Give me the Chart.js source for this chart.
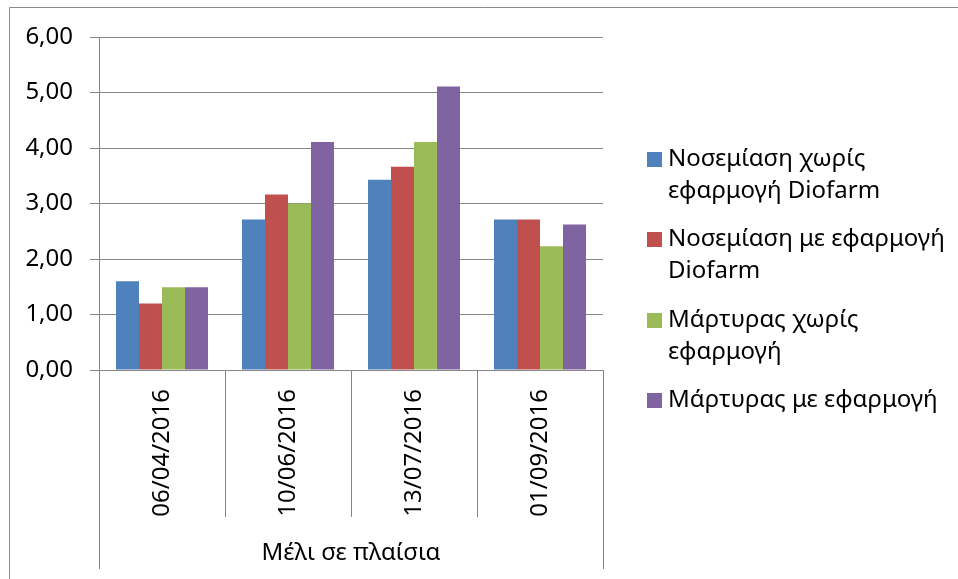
<!DOCTYPE html>
<html>
<head>
<meta charset="utf-8">
<script src="https://cdn.jsdelivr.net/npm/chart.js@4/dist/chart.umd.min.js"></script>
<style>
  html, body { margin: 0; padding: 0; background: #ffffff; }
  #wrap { width: 958px; height: 579px; }
</style>
</head>
<body>
<div id="wrap"><canvas id="c" width="958" height="579"></canvas></div>
<script>
// Sampling dates (categories) and the group they belong to
const categories = ['06/04/2016', '10/06/2016', '13/07/2016', '01/09/2016'];
const groupLabel = 'Μέλι σε πλαίσια';

// Series names, and how each one wraps in the legend
const seriesNames = [
  'Νοσεμίαση χωρίς εφαρμογή Diofarm',
  'Νοσεμίαση με εφαρμογή Diofarm',
  'Μάρτυρας χωρίς εφαρμογή',
  'Μάρτυρας με εφαρμογή'
];
const legendLines = [
  ['Νοσεμίαση χωρίς', 'εφαρμογή Diofarm'],
  ['Νοσεμίαση με εφαρμογή', 'Diofarm'],
  ['Μάρτυρας χωρίς', 'εφαρμογή'],
  ['Μάρτυρας με εφαρμογή']
];

// Values per series, one per date
const nosemiasiWithout = [1.60, 2.71, 3.43, 2.71];
const nosemiasiWith    = [1.20, 3.16, 3.66, 2.71];
const controlWithout   = [1.49, 3.00, 4.11, 2.23];
const controlWith      = [1.49, 4.11, 5.11, 2.62];

// Value axis
const yMin = 0;
const yMax = 6;
const yStep = 1;

const seriesColors = ['#4F81BD', '#C0504D', '#9BBB59', '#8064A2'];
const seriesValues = [nosemiasiWithout, nosemiasiWith, controlWithout, controlWith];

const FONT = "'Noto Sans', 'Open Sans', 'DejaVu Sans', sans-serif";
const FONT_SIZE = 24;
const GRID = '#868686';

// Frame, multi-level category separators, group label and wrapped legend
const decorations = {
  id: 'decorations',
  afterDraw(chart) {
    const ctx = chart.ctx;
    const area = chart.chartArea;
    const n = categories.length;
    const step = (area.right - area.left) / n;
    ctx.save();

    // outer frame
    ctx.strokeStyle = '#8a8a8a';
    ctx.lineWidth = 1;
    ctx.beginPath();
    ctx.moveTo(9.5, 579);
    ctx.lineTo(9.5, 7.5);
    ctx.lineTo(958, 7.5);
    ctx.stroke();

    // separators below the axis
    ctx.strokeStyle = GRID;
    ctx.beginPath();
    for (let i = 0; i <= n; i++) {
      const x = Math.round(area.left + i * step) + 0.5;
      const outer = (i === 0 || i === n);
      ctx.moveTo(x, area.bottom);
      ctx.lineTo(x, outer ? 569 : 517);
    }
    ctx.stroke();

    // group label
    ctx.fillStyle = '#000';
    ctx.font = FONT_SIZE + 'px ' + FONT;
    ctx.textAlign = 'center';
    ctx.textBaseline = 'middle';
    ctx.fillText(groupLabel, (area.left + area.right) / 2, 553);

    // legend
    const lx = 647, tx = 668, box = 15;
    const itemTops = [159, 239, 320, 400];
    ctx.textAlign = 'left';
    legendLines.forEach((lines, i) => {
      const cy = itemTops[i];
      ctx.fillStyle = seriesColors[i];
      ctx.fillRect(lx, Math.round(cy - box / 2), box, box);
      ctx.fillStyle = '#000';
      lines.forEach((t, j) => ctx.fillText(t, tx, cy + j * 32));
    });
    ctx.restore();
  }
};

new Chart(document.getElementById('c'), {
  type: 'bar',
  data: {
    labels: categories,
    datasets: seriesNames.map((name, i) => ({
      label: name,
      data: seriesValues[i],
      backgroundColor: seriesColors[i],
      borderWidth: 0,
      barPercentage: 1,
      categoryPercentage: 0.73
    }))
  },
  options: {
    responsive: false,
    animation: false,
    devicePixelRatio: 1,
    layout: { padding: { left: 0, top: 37, right: 355, bottom: 0 } },
    plugins: {
      legend: { display: false },
      tooltip: { enabled: false }
    },
    scales: {
      x: {
        grid: { display: false, drawTicks: false },
        border: { display: false },
        ticks: {
          color: '#000',
          font: { family: FONT, size: FONT_SIZE },
          minRotation: 90,
          maxRotation: 90,
          autoSkip: false,
          padding: 19
        },
        afterFit(scale) { scale.height = 209; }
      },
      y: {
        min: yMin,
        max: yMax,
        grid: { color: GRID, lineWidth: 1, tickLength: 9, drawTicks: true },
        border: { display: true, color: GRID, width: 1 },
        ticks: {
          stepSize: yStep,
          color: '#000',
          font: { family: FONT, size: FONT_SIZE },
          padding: 17,
          callback: v => v.toFixed(2).replace('.', ',')
        },
        afterFit(scale) { scale.width = 99; }
      }
    }
  },
  plugins: [decorations]
});
</script>
</body>
</html>
